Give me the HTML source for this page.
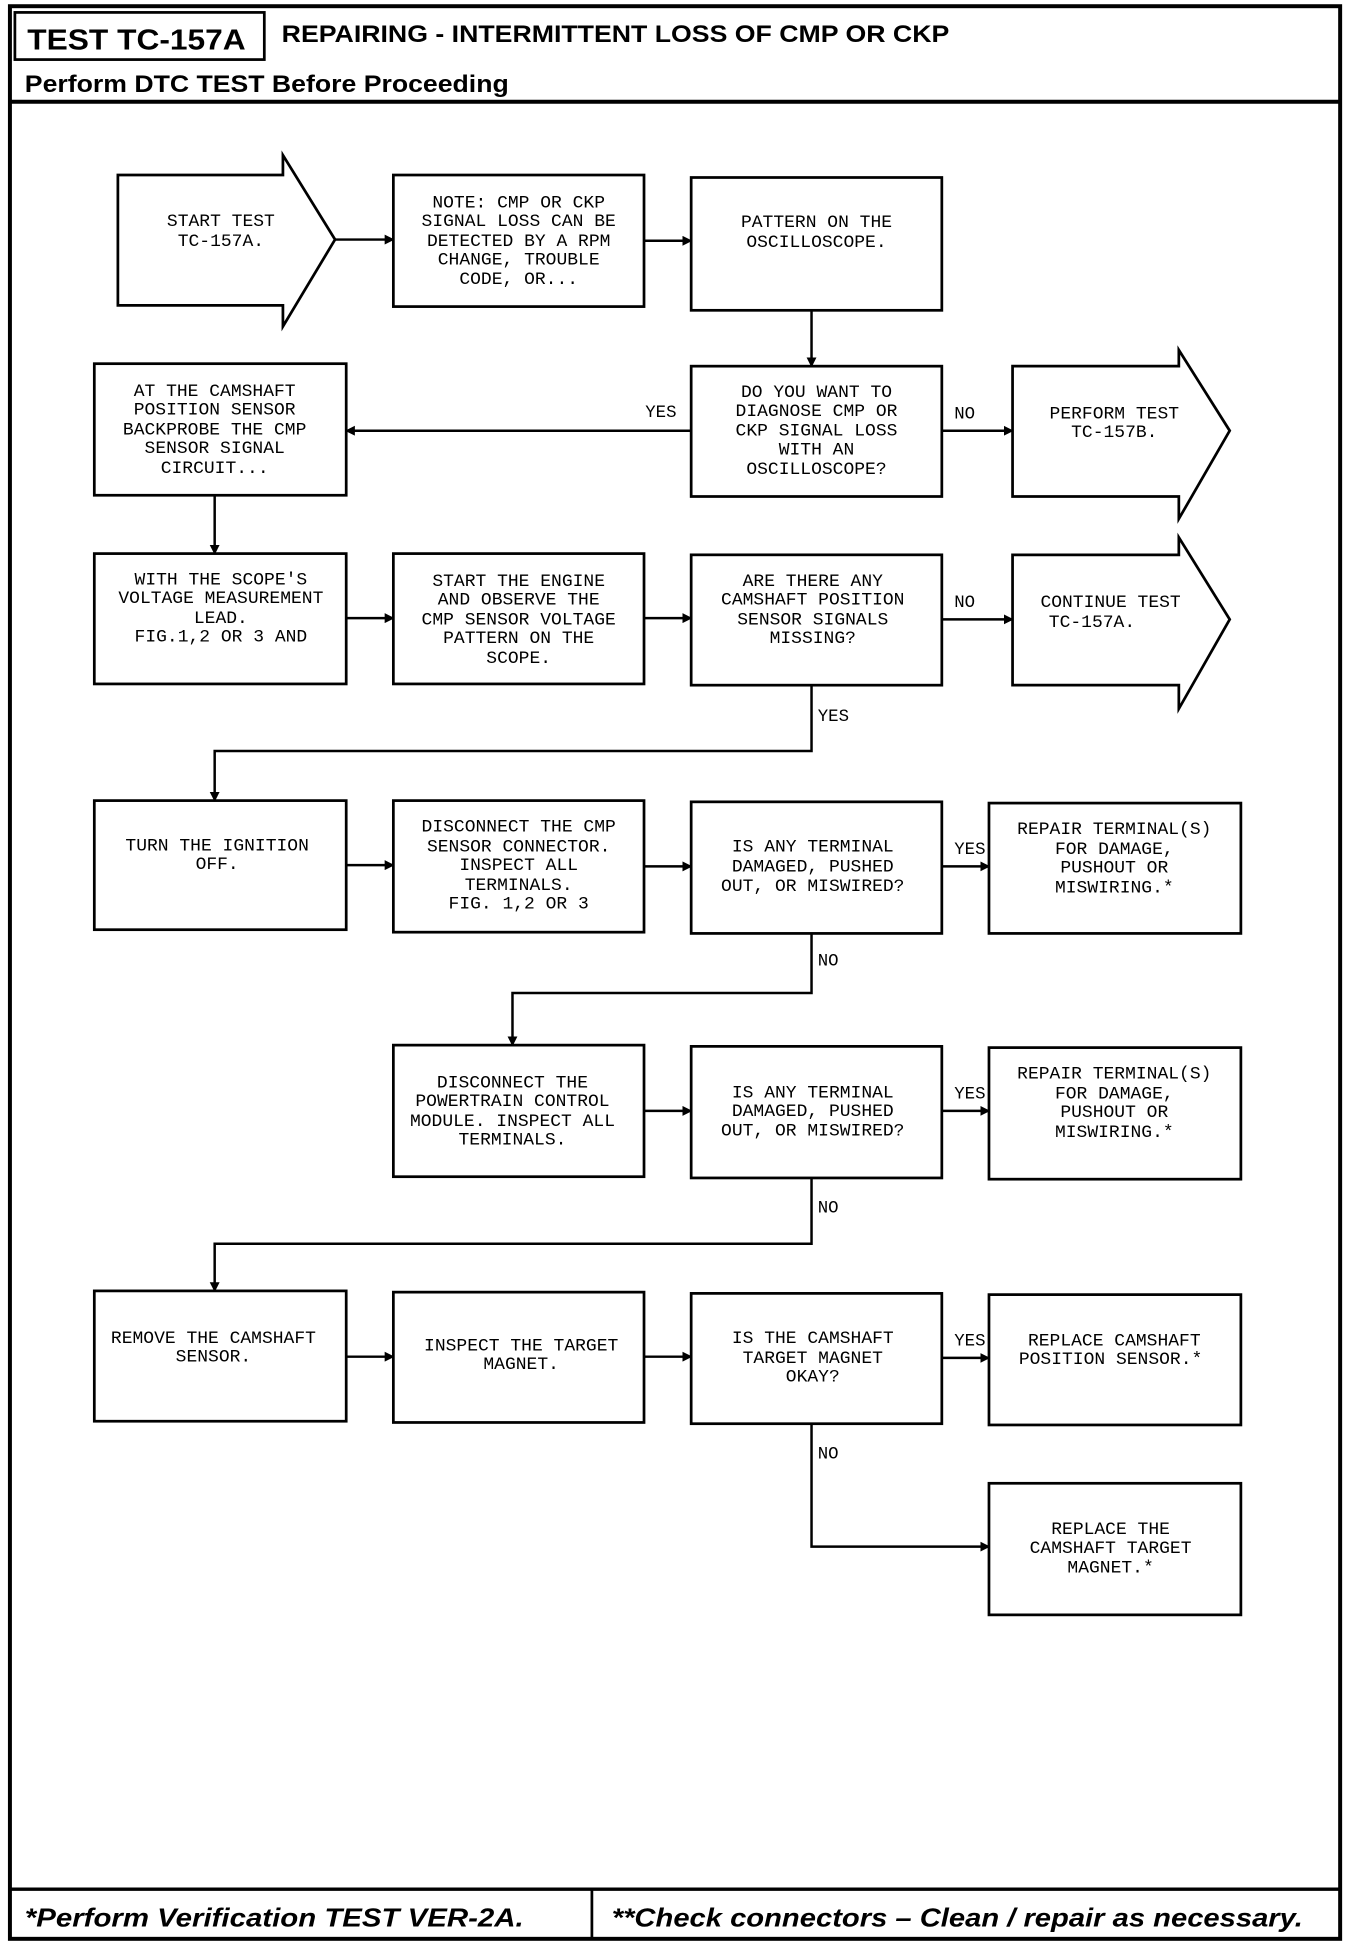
<!DOCTYPE html>
<html><head><meta charset="utf-8"><style>
html,body{margin:0;padding:0;background:#fff;}
svg{display:block;}
.t{font-family:"Liberation Mono",monospace;font-size:14.5px;fill:#000;text-anchor:middle;}
.l{font-family:"Liberation Mono",monospace;font-size:14px;fill:#000;}
.h{font-family:"Liberation Sans",sans-serif;font-weight:bold;fill:#000;}
</style></head><body>
<svg width="1360" height="1950" viewBox="0 0 1096 1571" preserveAspectRatio="none" xmlns="http://www.w3.org/2000/svg">
<defs><marker id="a" markerWidth="8" markerHeight="8" refX="7" refY="4" orient="auto" markerUnits="userSpaceOnUse"><path d="M0,0 L8,4 L0,8 z" fill="#000"/></marker></defs>
<g fill="none" stroke="#000" stroke-width="2.2">
<rect x="8" y="5" width="1072" height="1557" stroke-width="3.2"/>
<rect x="12" y="10" width="201" height="38"/>
<line x1="8" y1="82" x2="1080" y2="82" stroke-width="3.2"/>
<line x1="8" y1="1522" x2="1080" y2="1522" stroke-width="2.8"/>
<line x1="477" y1="1522" x2="477" y2="1562"/>
<path d="M95,141 H228 V125 L270,193 L228,263 V246 H95 Z"/>
<path d="M816,295 H950 V282 L991,347 L950,418 V400 H816 Z"/>
<path d="M816,447 H950 V433 L991,499 L950,571 V552 H816 Z"/>
<rect x="317" y="141" width="202" height="106"/>
<rect x="557" y="143" width="202" height="107"/>
<rect x="557" y="295" width="202" height="105"/>
<rect x="76" y="293" width="203" height="106"/>
<rect x="76" y="446" width="203" height="105"/>
<rect x="317" y="446" width="202" height="105"/>
<rect x="557" y="447" width="202" height="105"/>
<rect x="76" y="645" width="203" height="104"/>
<rect x="317" y="645" width="202" height="106"/>
<rect x="557" y="646" width="202" height="106"/>
<rect x="797" y="647" width="203" height="105"/>
<rect x="317" y="842" width="202" height="106"/>
<rect x="557" y="843" width="202" height="106"/>
<rect x="797" y="844" width="203" height="106"/>
<rect x="76" y="1040" width="203" height="105"/>
<rect x="317" y="1041" width="202" height="105"/>
<rect x="557" y="1042" width="202" height="105"/>
<rect x="797" y="1043" width="203" height="105"/>
<rect x="797" y="1195" width="203" height="106"/>
</g>
<g fill="none" stroke="#000" stroke-width="2" marker-end="url(#a)">
<line x1="270" y1="193" x2="317" y2="193"/>
<line x1="519" y1="194" x2="557" y2="194"/>
<line x1="654" y1="250" x2="654" y2="295"/>
<line x1="557" y1="347" x2="279" y2="347"/>
<line x1="759" y1="347" x2="816" y2="347"/>
<line x1="173" y1="399" x2="173" y2="446"/>
<line x1="279" y1="498" x2="317" y2="498"/>
<line x1="519" y1="498" x2="557" y2="498"/>
<line x1="759" y1="499" x2="816" y2="499"/>
<polyline points="654,552 654,605 173,605 173,645"/>
<line x1="279" y1="697" x2="317" y2="697"/>
<line x1="519" y1="698" x2="557" y2="698"/>
<line x1="759" y1="698" x2="797" y2="698"/>
<polyline points="654,752 654,800 413,800 413,842"/>
<line x1="519" y1="895" x2="557" y2="895"/>
<line x1="759" y1="895" x2="797" y2="895"/>
<polyline points="654,949 654,1002 173,1002 173,1040"/>
<line x1="279" y1="1093" x2="317" y2="1093"/>
<line x1="519" y1="1093" x2="557" y2="1093"/>
<line x1="759" y1="1094" x2="797" y2="1094"/>
<polyline points="654,1147 654,1246 797,1246"/>
</g>
<text class="h" x="22" y="40" font-size="23" textLength="176" lengthAdjust="spacingAndGlyphs">TEST TC-157A</text>
<text class="h" x="227" y="34" font-size="19" textLength="538" lengthAdjust="spacingAndGlyphs">REPAIRING - INTERMITTENT LOSS OF CMP OR CKP</text>
<text class="h" x="20" y="74" font-size="19" textLength="390" lengthAdjust="spacingAndGlyphs">Perform DTC TEST Before Proceeding</text>
<text class="h" x="20" y="1552" font-size="21" font-style="italic" textLength="402" lengthAdjust="spacingAndGlyphs">*Perform Verification TEST VER-2A.</text>
<text class="h" x="493" y="1552" font-size="21" font-style="italic" textLength="557" lengthAdjust="spacingAndGlyphs">**Check connectors – Clean / repair as necessary.</text>
<g class="t">
<text x="178" y="182">START TEST</text><text x="178" y="198">TC-157A.</text>
<text x="418" y="167">NOTE: CMP OR CKP</text><text x="418" y="182">SIGNAL LOSS CAN BE</text><text x="418" y="198">DETECTED BY A RPM</text><text x="418" y="213">CHANGE, TROUBLE</text><text x="418" y="229">CODE, OR...</text>
<text x="658" y="183">PATTERN ON THE</text><text x="658" y="199">OSCILLOSCOPE.</text>
<text x="658" y="320">DO YOU WANT TO</text><text x="658" y="335">DIAGNOSE CMP OR</text><text x="658" y="351">CKP SIGNAL LOSS</text><text x="658" y="366">WITH AN</text><text x="658" y="382">OSCILLOSCOPE?</text>
<text x="173" y="319">AT THE CAMSHAFT</text><text x="173" y="334">POSITION SENSOR</text><text x="173" y="350">BACKPROBE THE CMP</text><text x="173" y="365">SENSOR SIGNAL</text><text x="173" y="381">CIRCUIT...</text>
<text x="898" y="337">PERFORM TEST</text><text x="898" y="352">TC-157B.</text>
<text x="178" y="471">WITH THE SCOPE'S</text><text x="178" y="486">VOLTAGE MEASUREMENT</text><text x="178" y="502">LEAD.</text><text x="178" y="517">FIG.1,2 OR 3 AND</text>
<text x="418" y="472">START THE ENGINE</text><text x="418" y="487">AND OBSERVE THE</text><text x="418" y="503">CMP SENSOR VOLTAGE</text><text x="418" y="518">PATTERN ON THE</text><text x="418" y="534">SCOPE.</text>
<text x="655" y="472">ARE THERE ANY</text><text x="655" y="487">CAMSHAFT POSITION</text><text x="655" y="503">SENSOR SIGNALS</text><text x="655" y="518">MISSING?</text>
<text x="895" y="489">CONTINUE TEST</text><text x="880" y="505">TC-157A.</text>
<text x="175" y="685">TURN THE IGNITION</text><text x="175" y="700">OFF.</text>
<text x="418" y="670">DISCONNECT THE CMP</text><text x="418" y="686">SENSOR CONNECTOR.</text><text x="418" y="701">INSPECT ALL</text><text x="418" y="717">TERMINALS.</text><text x="418" y="732">FIG. 1,2 OR 3</text>
<text x="655" y="686">IS ANY TERMINAL</text><text x="655" y="702">DAMAGED, PUSHED</text><text x="655" y="718">OUT, OR MISWIRED?</text>
<text x="898" y="672">REPAIR TERMINAL(S)</text><text x="898" y="688">FOR DAMAGE,</text><text x="898" y="703">PUSHOUT OR</text><text x="898" y="719">MISWIRING.*</text>
<text x="413" y="876">DISCONNECT THE</text><text x="413" y="891">POWERTRAIN CONTROL</text><text x="413" y="907">MODULE. INSPECT ALL</text><text x="413" y="922">TERMINALS.</text>
<text x="655" y="884">IS ANY TERMINAL</text><text x="655" y="899">DAMAGED, PUSHED</text><text x="655" y="915">OUT, OR MISWIRED?</text>
<text x="898" y="869">REPAIR TERMINAL(S)</text><text x="898" y="885">FOR DAMAGE,</text><text x="898" y="900">PUSHOUT OR</text><text x="898" y="916">MISWIRING.*</text>
<text x="172" y="1082">REMOVE THE CAMSHAFT</text><text x="172" y="1097">SENSOR.</text>
<text x="420" y="1088">INSPECT THE TARGET</text><text x="420" y="1103">MAGNET.</text>
<text x="655" y="1082">IS THE CAMSHAFT</text><text x="655" y="1098">TARGET MAGNET</text><text x="655" y="1113">OKAY?</text>
<text x="898" y="1084">REPLACE CAMSHAFT</text><text x="895" y="1099">POSITION SENSOR.*</text>
<text x="895" y="1236">REPLACE THE</text><text x="895" y="1251">CAMSHAFT TARGET</text><text x="895" y="1267">MAGNET.*</text>
</g>
<g class="l">
<text x="520" y="336">YES</text>
<text x="769" y="337">NO</text>
<text x="769" y="489">NO</text>
<text x="659" y="581">YES</text>
<text x="769" y="688">YES</text>
<text x="659" y="778">NO</text>
<text x="769" y="885">YES</text>
<text x="659" y="977">NO</text>
<text x="769" y="1084">YES</text>
<text x="659" y="1175">NO</text>
</g>
</svg>
</body></html>
